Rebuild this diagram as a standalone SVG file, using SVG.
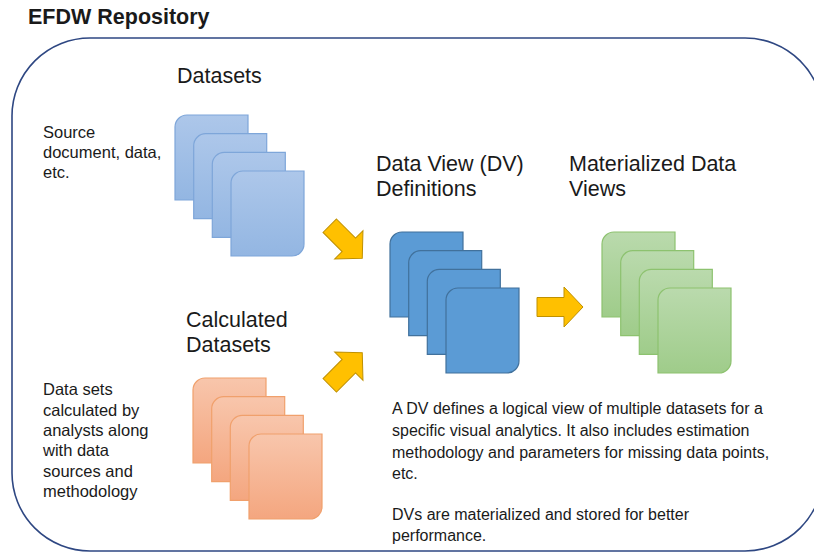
<svg xmlns="http://www.w3.org/2000/svg" xmlns:xlink="http://www.w3.org/1999/xlink" width="814" height="552" viewBox="0 0 814 552">
  <style>
    text { font-family: "Liberation Sans", Arial, sans-serif; fill: #1a1a1a; }
    .title { font-size: 21.5px; font-weight: bold; }
    .head { font-size: 21.5px; }
    .note { font-size: 16.5px; }
    .body { font-size: 16px; }
    .repo { fill: none; stroke: #2E4782; stroke-width: 1.6; }
    .arrow { fill: #FFC000; stroke: #BF9000; stroke-width: 1; }
    .blue { fill: url(#gBlue); stroke: #7EA6D9; stroke-width: 1.2; }
    .dv { fill: #5B9BD5; stroke: #41719C; stroke-width: 1.2; }
    .green { fill: url(#gGreen); stroke: #8DC26F; stroke-width: 1.2; }
    .orange { fill: url(#gOrange); stroke: #F0A06C; stroke-width: 1.2; }
  </style>
  <defs>
    <linearGradient id="gBlue" x1="0" y1="0" x2="0" y2="1">
      <stop offset="0" stop-color="#ADC7EA"/>
      <stop offset="1" stop-color="#93B6E2"/>
    </linearGradient>
    <linearGradient id="gGreen" x1="0" y1="0" x2="0" y2="1">
      <stop offset="0" stop-color="#BADAAD"/>
      <stop offset="1" stop-color="#9FCC8A"/>
    </linearGradient>
    <linearGradient id="gOrange" x1="0" y1="0" x2="0" y2="1">
      <stop offset="0" stop-color="#F8C6AC"/>
      <stop offset="1" stop-color="#F4A67F"/>
    </linearGradient>
    <!-- page shape: rounded top-left and bottom-right corners -->
    <path id="card" d="M0,12 A12,12 0 0 1 12,0 H73 V73 A12,12 0 0 1 61,85 H0 Z"/>
    <!-- block arrow pointing right, centred on the origin -->
    <path id="blockArrow" d="M-23,-9.5 H4 V-20 L23,0 L4,20 V9.5 H-23 Z"/>
  </defs>

  <text class="title" x="28" y="24">EFDW Repository</text>
  <rect class="repo" x="12" y="38" width="811" height="513" rx="78" ry="78"/>

  <g id="datasets">
    <text class="head" x="177" y="83">Datasets</text>
    <use href="#card" class="blue" x="175" y="115"/>
    <use href="#card" class="blue" x="193.7" y="133.7"/>
    <use href="#card" class="blue" x="212.3" y="152.3"/>
    <use href="#card" class="blue" x="231" y="171"/>
  </g>

  <g id="source-note">
    <text class="note" x="43" y="138">Source</text>
    <text class="note" x="43" y="158">document, data,</text>
    <text class="note" x="43" y="178">etc.</text>
  </g>

  <g id="calculated-datasets">
    <text class="head" x="186" y="327">Calculated</text>
    <text class="head" x="186" y="352">Datasets</text>
    <use href="#card" class="orange" x="193" y="378"/>
    <use href="#card" class="orange" x="211.7" y="396.7"/>
    <use href="#card" class="orange" x="230.3" y="415.3"/>
    <use href="#card" class="orange" x="249" y="434"/>
  </g>

  <g id="calculated-note">
    <text class="note" x="43" y="395">Data sets</text>
    <text class="note" x="43" y="416">calculated by</text>
    <text class="note" x="43" y="436">analysts along</text>
    <text class="note" x="43" y="456">with data</text>
    <text class="note" x="43" y="477">sources and</text>
    <text class="note" x="43" y="497">methodology</text>
  </g>

  <g id="dv-definitions">
    <text class="head" x="376" y="171">Data View (DV)</text>
    <text class="head" x="376" y="196">Definitions</text>
    <use href="#card" class="dv" x="390" y="232"/>
    <use href="#card" class="dv" x="408.7" y="250.7"/>
    <use href="#card" class="dv" x="427.3" y="269.3"/>
    <use href="#card" class="dv" x="446" y="288"/>
  </g>

  <g id="materialized-views">
    <text class="head" x="569" y="171">Materialized Data</text>
    <text class="head" x="569" y="196">Views</text>
    <use href="#card" class="green" x="602" y="232"/>
    <use href="#card" class="green" x="620.7" y="250.7"/>
    <use href="#card" class="green" x="639.3" y="269.3"/>
    <use href="#card" class="green" x="658" y="288"/>
  </g>

  <g id="connectors">
    <use href="#blockArrow" class="arrow" transform="translate(346,242) rotate(45)"/>
    <use href="#blockArrow" class="arrow" transform="translate(346,369) rotate(-45)"/>
    <use href="#blockArrow" class="arrow" transform="translate(560,307)"/>
  </g>

  <g id="dv-note">
    <text class="body" x="392" y="414">A DV defines a logical view of multiple datasets for a</text>
    <text class="body" x="392" y="436">specific visual analytics. It also includes estimation</text>
    <text class="body" x="392" y="458">methodology and parameters for missing data points,</text>
    <text class="body" x="392" y="479">etc.</text>
    <text class="body" x="392" y="520">DVs are materialized and stored for better</text>
    <text class="body" x="392" y="541">performance.</text>
  </g>
</svg>
